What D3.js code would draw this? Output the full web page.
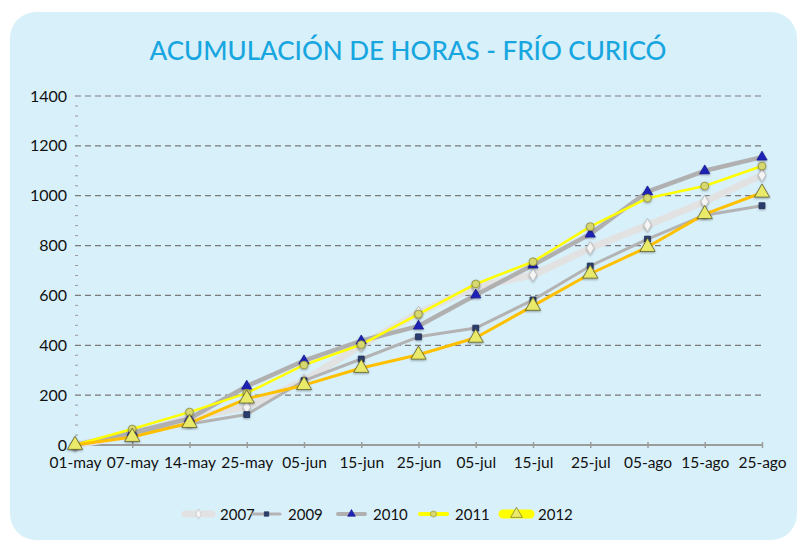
<!DOCTYPE html>
<html>
<head>
<meta charset="utf-8">
<script src="https://cdn.jsdelivr.net/npm/d3@7"></script>
<style>
  html, body { margin: 0; padding: 0; background: #ffffff; }
  svg { display: block; }
</style>
</head>
<body>
<svg id="chart" width="801" height="547"></svg>
<script>
// Accumulated chill hours, Curicó
const fechas = ["01-may", "07-may", "14-may", "25-may", "05-jun", "15-jun", "25-jun",
                "05-jul", "15-jul", "25-jul", "05-ago", "15-ago", "25-ago"];
const horas2007 = [0, 40, 110, 152, 258, 400, 530, 635, 682, 790, 882, 976, 1083];
const horas2009 = [0, 45, 84, 122, 258, 345, 434, 469, 582, 718, 826, 922, 960];
const horas2010 = [0, 50, 106, 236, 338, 418, 477, 602, 722, 846, 1016, 1100, 1155];
const horas2011 = [0, 64, 132, 208, 321, 403, 525, 646, 735, 876, 990, 1039, 1119];
const horas2012 = [0, 32, 88, 186, 240, 309, 362, 430, 558, 687, 794, 926, 1012];
const yTicks = [0, 200, 400, 600, 800, 1000, 1200, 1400];

const series = [
  { name: "2007", values: horas2007, line: "#e2e2e2", width: 7, sym: d3.symbolDiamond, size: 50, fill: "#f4f4f4", stroke: "#b8b8b8", legLine: "#e2e2e2", legW: 7 },
  { name: "2009", values: horas2009, line: "#b3b3b3", width: 3, sym: d3.symbolSquare, size: 34, fill: "#2c3e6e", stroke: "#1c2a50", legLine: "#b3b3b3", legW: 3 },
  { name: "2010", values: horas2010, line: "#b0b0b0", width: 4.5, sym: d3.symbolTriangle, size: 44, fill: "#1f22b8", stroke: "#14168a", legLine: "#b0b0b0", legW: 4 },
  { name: "2011", values: horas2011, line: "#ffff00", width: 2.5, sym: d3.symbolCircle, size: 48, fill: "#d8d870", stroke: "#8a8a3a", legLine: "#ffff00", legW: 4 },
  { name: "2012", values: horas2012, line: "#ffc000", width: 3, sym: d3.symbolTriangle, size: 100, fill: "#eaea6a", stroke: "#5e5e28", legLine: "#ffff00", legW: 9 }
];

const svg = d3.select("#chart");
const font = "Lato, 'Open Sans', sans-serif";

// shadow under the markers
const defs = svg.append("defs");
const sh = defs.append("filter").attr("id", "sh").attr("x", "-50%").attr("y", "-50%").attr("width", "200%").attr("height", "200%");
sh.append("feDropShadow").attr("dx", 0).attr("dy", 1).attr("stdDeviation", 1).attr("flood-color", "#000").attr("flood-opacity", 0.35);

// panel
svg.append("rect")
  .attr("x", 10).attr("y", 12).attr("width", 787).attr("height", 528)
  .attr("rx", 26).attr("ry", 26)
  .attr("fill", "#d8f0fa");

svg.append("text")
  .attr("x", 408).attr("y", 60)
  .attr("text-anchor", "middle")
  .attr("font-family", font)
  .attr("font-size", 26)
  .attr("font-weight", 500)
  .attr("fill", "#17a6df")
  .text("ACUMULACIÓN DE HORAS - FRÍO CURICÓ");

const x = d3.scalePoint().domain(fechas).range([75, 762]);
const y = d3.scaleLinear().domain([0, 1400]).range([445, 96]);

// dashed grid
svg.append("g")
  .selectAll("line")
  .data(yTicks.filter(d => d > 0))
  .join("line")
  .attr("x1", x.range()[0]).attr("x2", x.range()[1])
  .attr("y1", d => y(d)).attr("y2", d => y(d))
  .attr("stroke", "#7a7a7a").attr("stroke-width", 1.2)
  .attr("stroke-dasharray", "6,4");

// minor ticks on the value axis
svg.append("g")
  .selectAll("line")
  .data(d3.range(0, 1400, 40).filter(d => d % 200 !== 0))
  .join("line")
  .attr("x1", 75).attr("x2", 78)
  .attr("y1", d => y(d)).attr("y2", d => y(d))
  .attr("stroke", "#9a9a9a").attr("stroke-width", 1);

// value axis labels
const yAxis = svg.append("g")
  .attr("transform", "translate(75,0)")
  .call(d3.axisLeft(y).tickValues(yTicks).tickFormat(d3.format("d")).tickSize(0).tickPadding(8));
yAxis.select(".domain").remove();
yAxis.selectAll("text")
  .attr("font-family", font).attr("font-size", 16).attr("fill", "#111");

// category axis
const xAxis = svg.append("g")
  .attr("transform", `translate(0,${y(0)})`)
  .call(d3.axisBottom(x).tickSize(3).tickPadding(9).tickSizeOuter(0));
xAxis.select(".domain").attr("stroke", "#9c9c9c").attr("stroke-width", 2)
  .attr("d", `M${x.range()[0]},0H${x.range()[1]}`);
xAxis.selectAll(".tick line").attr("stroke", "#9c9c9c").attr("stroke-width", 1.5).attr("y1", -3).attr("y2", 3);
xAxis.selectAll("text")
  .attr("font-family", font).attr("font-size", 15.5).attr("fill", "#111");

const line = d3.line().x((d, i) => x(fechas[i])).y(d => y(d));

const plot = svg.append("g");
series.forEach(s => {
  plot.append("path")
    .datum(s.values)
    .attr("d", line)
    .attr("fill", "none")
    .attr("stroke", s.line)
    .attr("stroke-width", s.width)
    .attr("stroke-linejoin", "round")
    .attr("stroke-linecap", "round");
});
series.forEach(s => {
  plot.append("g")
    .selectAll("path")
    .data(s.values)
    .join("path")
    .attr("transform", (d, i) => `translate(${x(fechas[i])},${y(d)})`)
    .attr("d", d3.symbol().type(s.sym).size(s.size))
    .attr("fill", s.fill)
    .attr("stroke", s.stroke)
    .attr("stroke-width", 0.8)
    .attr("filter", "url(#sh)");
});

// legend
const legX = [185, 253, 338, 420, 503];
const legend = svg.append("g");
series.forEach((s, i) => {
  const g = legend.append("g").attr("transform", `translate(${legX[i]},514)`);
  g.append("line")
    .attr("x1", 0).attr("x2", 27).attr("y1", 0).attr("y2", 0)
    .attr("stroke", s.legLine).attr("stroke-width", s.legW)
    .attr("stroke-linecap", "round");
  g.append("path")
    .attr("transform", "translate(13.5,0)")
    .attr("d", d3.symbol().type(s.sym).size(s.size * 0.6))
    .attr("fill", s.fill).attr("stroke", s.stroke).attr("stroke-width", 0.6);
  g.append("text")
    .attr("x", 35).attr("y", 5.5)
    .attr("font-family", font).attr("font-size", 15).attr("fill", "#111")
    .text(s.name);
});
</script>
</body>
</html>
